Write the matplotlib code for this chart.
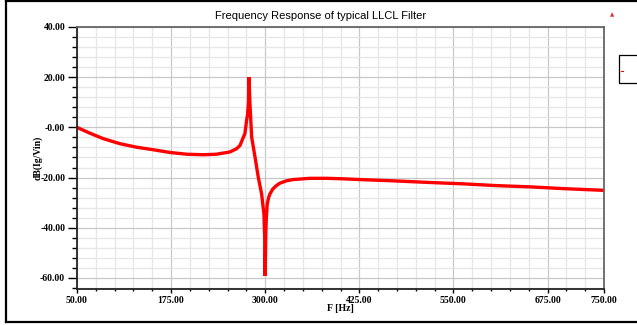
import matplotlib.pyplot as plt
import matplotlib.ticker as ticker
from matplotlib.lines import Line2D
from matplotlib.patches import Rectangle

# |Ig/Vin| of the LLCL filter, read in dB against frequency in Hz
freq_hz = [50, 67, 85, 107, 129, 151, 173.5, 196, 218, 235, 253, 262, 266.5,
           271, 273, 275.3, 276.5, 277.8, 278.4, 279.7, 282, 286.5, 290.8,
           295.2, 298.3, 299.3, 299.9, 300.8, 301.5, 302.7, 304.5, 306.3, 310,
           314, 319, 328, 337, 359, 382, 404, 426, 470, 514, 563, 607, 652,
           696, 750]
gain_db = [0, -2.3, -4.5, -6.5, -7.9, -8.9, -10.0, -10.7, -10.9, -10.7, -9.8,
           -8.5, -7.2, -3.9, -2.5, 2.8, 5.0, 10.0, 20.0, 9.5, -3.9, -11.9,
           -19.9, -26.5, -34.5, -43.8, -59.2, -42.0, -36.0, -30.5, -28.0,
           -26.5, -24.6, -23.4, -22.3, -21.3, -20.8, -20.3, -20.3, -20.5,
           -20.8, -21.3, -21.9, -22.5, -23.2, -23.7, -24.4, -25.1]

x_ticks = [50, 175, 300, 425, 550, 675, 750]
y_ticks = [40, 20, 0, -20, -40, -60]

fig = plt.figure(figsize=(6.37, 3.25), dpi=100)
ax = fig.add_axes([77 / 637, 1 - 289 / 325, 527 / 637, 262 / 325])

ax.plot(freq_hz, gain_db, color='#ff0000', lw=2.4, solid_joinstyle='miter')

ax.set_xlim(50, 750)
ax.set_ylim(-64.4, 40)
ax.set_xticks(x_ticks)
ax.set_yticks(y_ticks)
ax.xaxis.set_minor_locator(ticker.MultipleLocator(25))
ax.yaxis.set_minor_locator(ticker.MultipleLocator(4))
ax.xaxis.set_major_formatter(ticker.FuncFormatter(lambda v, p: '%.2f' % v))
ax.yaxis.set_major_formatter(
    ticker.FuncFormatter(lambda v, p: '-0.00' if v == 0 else '%.2f' % v))

ax.grid(which='major', color='#c8c8c8', lw=0.9)
ax.grid(which='minor', color='#e6e6e6', lw=0.9)
ax.set_axisbelow(True)

serif_bold = dict(family='Liberation Serif', weight='bold', size=7)
for lab in ax.get_xticklabels() + ax.get_yticklabels():
    lab.set_fontfamily('Liberation Serif')
    lab.set_fontweight('bold')
    lab.set_fontsize(7)
ax.tick_params(axis='y', which='major', length=6.5, width=1, direction='out', pad=2)
ax.tick_params(axis='y', which='minor', length=3.6, width=1, direction='out')
ax.tick_params(axis='x', which='major', length=3, width=1, direction='out', pad=2)
ax.tick_params(axis='x', which='minor', length=1.6, width=1, direction='out')

for side in ['left', 'bottom']:
    ax.spines[side].set_color('#222222')
    ax.spines[side].set_linewidth(1.3)
for side in ['top', 'right']:
    ax.spines[side].set_color('#666666')
    ax.spines[side].set_linewidth(1.3)

ax.set_xlabel('F [Hz]', labelpad=-1, **serif_bold)
ax.set_ylabel('dB(Ig/Vin)', labelpad=-2, **serif_bold)

fig.text(0.503, 1 - 16 / 325, 'Frequency Response of typical LLCL Filter',
         family='Liberation Sans', size=8, ha='center', va='center')
fig.text(612 / 637, 1 - 15 / 325, '\u25b2', color='#e03030', size=4,
         ha='center', va='center')

# outer frame of the report page
frame = dict(color='black', lw=1.6, transform=fig.transFigure)
fig.add_artist(Line2D([6 / 637, 1], [1 - 1 / 325, 1 - 1 / 325], **frame))
fig.add_artist(Line2D([6 / 637, 6 / 637], [1 - 1 / 325, 1 - 322 / 325], **frame))
fig.add_artist(Line2D([6 / 637, 1], [1 - 322 / 325, 1 - 322 / 325], **frame))

# legend box clipped by the page edge
fig.add_artist(Rectangle((619 / 637, 1 - 83 / 325), 30 / 637, 28 / 325,
                         transform=fig.transFigure, fill=False,
                         edgecolor='black', lw=0.9))
fig.add_artist(Line2D([621 / 637, 623 / 637], [1 - 71 / 325, 1 - 71 / 325],
                      color='#ff0000', lw=0.8, transform=fig.transFigure))

fig.savefig('out.png', dpi=100)
